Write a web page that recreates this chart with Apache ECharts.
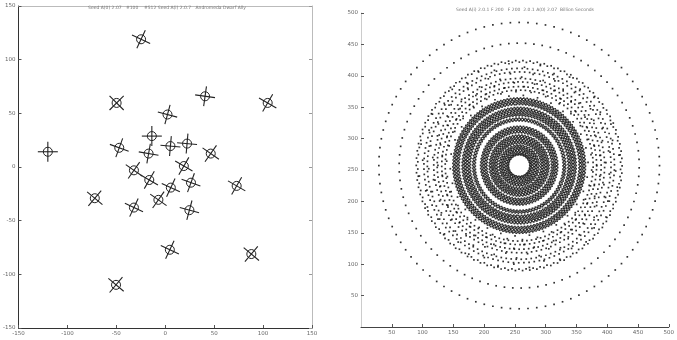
<!DOCTYPE html>
<html><head><meta charset="utf-8">
<script src="https://cdn.jsdelivr.net/npm/echarts@6/dist/echarts.min.js"></script>
<style>html,body{margin:0;padding:0;background:#fff}#c{width:677px;height:340px}</style>
</head><body><div id="c"></div>
<script>
// ---- data ----
const leftTitle = "Seed A(0) 2.07   #100    #512 Seed A(i) 2.0.7   Andromeda Dwarf Ally";
const rightTitle = "Seed A(i) 2.0.1 F 200   F 200  2.0.1 A(0) 2.07  Billion Seconds";

const starX = [-24.7, -49.7, 40.7, 104.7, 2.3, -120, -13.7, -47, 5.3, 22.3, -17, 46.5, 19, -32, -16.3, 26.3, 5.7, 73, -72, -7, -32, 24.7, 4.7, 88, -50.3];
const starY = [119, 59.7, 65.9, 59.7, 48.9, 14.2, 28.8, 17.9, 19.5, 21.8, 12.5, 12.5, 0.9, -3.1, -12.1, -14.6, -19.2, -17.6, -29.1, -30.6, -37.8, -40.2, -77.1, -81.1, -109.8];
const starTilt = [25, 45, 8, 30, 15, 0, 0, 20, 5, 5, 10, 35, 30, 35, 30, 20, 25, 30, 40, 35, 25, 15, 25, 40, 40];

const ringCenter = [257, 257];
const ringRadius = [228, 195, 166, 160, 152, 144, 136, 129, 123, 115,
  107, 104, 101, 98, 92, 89, 86, 83, 80, 75, 72,
  62, 59, 56, 53, 48, 45, 42, 39, 36, 32, 29, 26, 23, 20, 17.5];
const ringCount = [100, 90, 180, 40, 230, 50, 215, 50, 200, 60,
  250, 245, 240, 235, 220, 215, 210, 200, 195, 185, 175,
  150, 145, 140, 130, 120, 115, 105, 100, 92, 82, 75, 68, 60, 52, 46];
const ringWobble = [0, 0, 1.2, 3, 2.8, 3, 2.8, 3, 2.8, 3,
  0.7, 0.7, 0.7, 0.7, 0.7, 0.7, 0.7, 0.7, 0.7, 0.7, 0.7,
  0.7, 0.7, 0.7, 0.7, 0.7, 0.7, 0.7, 0.7, 0.7, 0.7, 0.7, 0.7, 0.7, 0.5, 0.3];

// ---- build ----
const stars = starX.map((x, i) => [x, starY[i], starTilt[i]]);
const dots = [];
ringRadius.forEach((r, k) => {
  const n = ringCount[k], w = ringWobble[k], phase = k * 0.61;
  for (let i = 0; i < n; i++) {
    const a = phase + 2 * Math.PI * i / n;
    const rr = r + (i % 2 ? w : -w);
    dots.push([ringCenter[0] + rr * Math.cos(a), ringCenter[1] + rr * Math.sin(a)]);
  }
});

const lab = { fontSize: 5.5, color: '#666', fontFamily: 'DejaVu Sans', margin: 3 };
const chart = echarts.init(document.getElementById('c'), null, { renderer: 'canvas' });
chart.setOption({
  animation: false,
  backgroundColor: '#fff',
  title: [
    { text: leftTitle, left: 162, top: 0, textAlign: 'center', textStyle: { fontSize: 4.5, color: '#777', fontWeight: 'normal', fontFamily: 'DejaVu Sans' } },
    { text: rightTitle, left: 520, top: 2, textAlign: 'center', textStyle: { fontSize: 4.5, color: '#777', fontWeight: 'normal', fontFamily: 'DejaVu Sans' } }
  ],
  grid: [
    { left: 12, top: 6, width: 300, height: 322 },
    { left: 361, top: 13, width: 311, height: 314 }
  ],
  xAxis: [
    { gridIndex: 0, type: 'value', min: -150, max: 150, interval: 50, position: 'bottom',
      axisLine: { onZero: false, lineStyle: { color: '#333', width: 1 } },
      axisTick: { inside: true, length: 3, lineStyle: { color: '#555' } },
      splitLine: { show: false }, axisLabel: lab },
    { gridIndex: 0, type: 'value', min: -150, max: 150, interval: 50, position: 'top',
      axisLine: { onZero: false, lineStyle: { color: '#bbb', width: 1 } },
      axisTick: { show: false }, splitLine: { show: false }, axisLabel: { show: false } },
    { gridIndex: 1, type: 'value', min: 0, max: 500, interval: 50, position: 'bottom',
      axisLine: { onZero: false, lineStyle: { color: '#444', width: 1 } },
      axisTick: { inside: true, length: 3, lineStyle: { color: '#555' } },
      splitLine: { show: false }, axisLabel: Object.assign({ showMinLabel: false }, lab) }
  ],
  yAxis: [
    { gridIndex: 0, type: 'value', min: -150, max: 150, interval: 50, position: 'left',
      axisLine: { onZero: false, lineStyle: { color: '#333', width: 1 } },
      axisTick: { inside: true, length: 3, lineStyle: { color: '#555' } },
      splitLine: { show: false }, axisLabel: lab },
    { gridIndex: 0, type: 'value', min: -150, max: 150, interval: 50, position: 'right',
      axisLine: { onZero: false, lineStyle: { color: '#bbb', width: 1 } },
      axisTick: { inside: true, length: 3, lineStyle: { color: '#999' } },
      splitLine: { show: false }, axisLabel: { show: false } },
    { gridIndex: 1, type: 'value', min: 0, max: 500, interval: 50, position: 'left',
      axisLine: { onZero: false, lineStyle: { color: '#ccc', width: 1 } },
      axisTick: { inside: true, length: 3, lineStyle: { color: '#555' } },
      splitLine: { show: false }, axisLabel: Object.assign({ showMinLabel: false }, lab) }
  ],
  series: [
    { type: 'custom', xAxisIndex: 0, yAxisIndex: 0, data: stars,
      renderItem: (params, api) => {
        const p = api.coord([api.value(0), api.value(1)]);
        const t = api.value(2) * Math.PI / 180, L = 10;
        const c = Math.cos(t) * L, s = Math.sin(t) * L;
        return { type: 'group', children: [
          { type: 'circle', shape: { cx: p[0], cy: p[1], r: 4.5 }, style: { fill: 'none', stroke: '#222', lineWidth: 1 } },
          { type: 'line', shape: { x1: p[0] - c, y1: p[1] - s, x2: p[0] + c, y2: p[1] + s }, style: { stroke: '#222', lineWidth: 1.1 } },
          { type: 'line', shape: { x1: p[0] + s, y1: p[1] - c, x2: p[0] - s, y2: p[1] + c }, style: { stroke: '#222', lineWidth: 1.1 } }
        ] };
      } },
    { type: 'scatter', xAxisIndex: 2, yAxisIndex: 2, data: dots, symbol: 'rect', symbolSize: 1.7,
      itemStyle: { color: '#000' }, silent: true }
  ]
});
</script></body></html>
